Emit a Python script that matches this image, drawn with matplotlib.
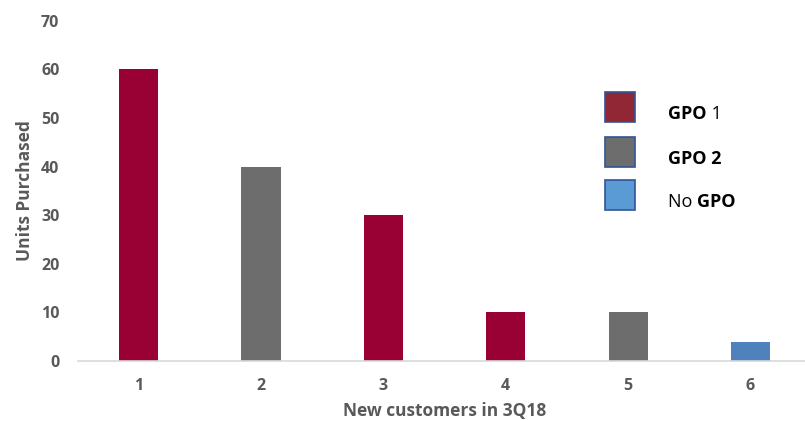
import matplotlib.pyplot as plt

# data
customers = ['1', '2', '3', '4', '5', '6']
units = [60, 40, 30, 10, 10, 4]
groups = ['GPO 1', 'GPO 2', 'GPO 1', 'GPO 1', 'GPO 2', 'No GPO']
y_ticks = [0, 10, 20, 30, 40, 50, 60, 70]

bar_colors = {'GPO 1': '#990033', 'GPO 2': '#6D6D6D', 'No GPO': '#4F81BD'}
key_colors = {'GPO 1': '#912634', 'GPO 2': '#6D6D6D', 'No GPO': '#5B9BD5'}
grey_txt = '#595959'

plt.rcParams['font.family'] = ['Open Sans', 'DejaVu Sans']

fig = plt.figure(figsize=(8.05, 4.21), dpi=100)
ax = fig.add_axes([0.0963, 0.1425, 0.912, 0.808])

x = list(range(len(customers)))
ax.bar(x, units, width=0.32, color=[bar_colors[g] for g in groups], zorder=2)

ax.set_xlim(-0.5, len(customers) - 0.5)
ax.set_ylim(0, 70)
ax.set_xticks(x)
ax.set_xticklabels(customers)
ax.set_yticks(y_ticks)
ax.tick_params(length=0, labelsize=11.5, labelcolor=grey_txt)
ax.tick_params(axis='y', pad=13)
ax.tick_params(axis='x', pad=12)
for lab in ax.get_xticklabels() + ax.get_yticklabels():
    lab.set_fontweight('bold')

for s in ['top', 'right', 'left']:
    ax.spines[s].set_visible(False)
ax.spines['bottom'].set_color('#D9D9D9')
ax.spines['bottom'].set_linewidth(1.2)

ax.set_ylabel('Units Purchased', fontsize=12.5, fontweight='bold', color=grey_txt, labelpad=5)
ax.set_xlabel('New customers in 3Q18', fontsize=12.5, fontweight='bold', color=grey_txt, labelpad=6)

# hand-made legend: square keys and mixed bold / normal text
W, H = 805, 421
keys = [('GPO 1', 92, [('GPO', 'bold'), (' 1', 'normal')]),
        ('GPO 2', 137, [('GPO 2', 'bold')]),
        ('No GPO', 180, [('No ', 'normal'), ('GPO', 'bold')])]
for name, ytop, parts in keys:
    r = plt.Rectangle((605 / W, 1 - (ytop + 30) / H), 30 / W, 30 / H,
                      transform=fig.transFigure, facecolor=key_colors[name],
                      edgecolor='#2F5597', linewidth=1.2)
    fig.patches.append(r)
    yc = 1 - (ytop + 22) / H
    prev = None
    for txt, wt in parts:
        if prev is None:
            prev = fig.text(668 / W, yc, txt, fontsize=13, fontweight=wt,
                            color='black', va='center', ha='left')
        else:
            prev = ax.annotate(txt, xy=(1, 0), xycoords=prev, fontsize=13,
                               fontweight=wt, color='black', va='bottom', ha='left')

fig.savefig('out.png', dpi=100)
